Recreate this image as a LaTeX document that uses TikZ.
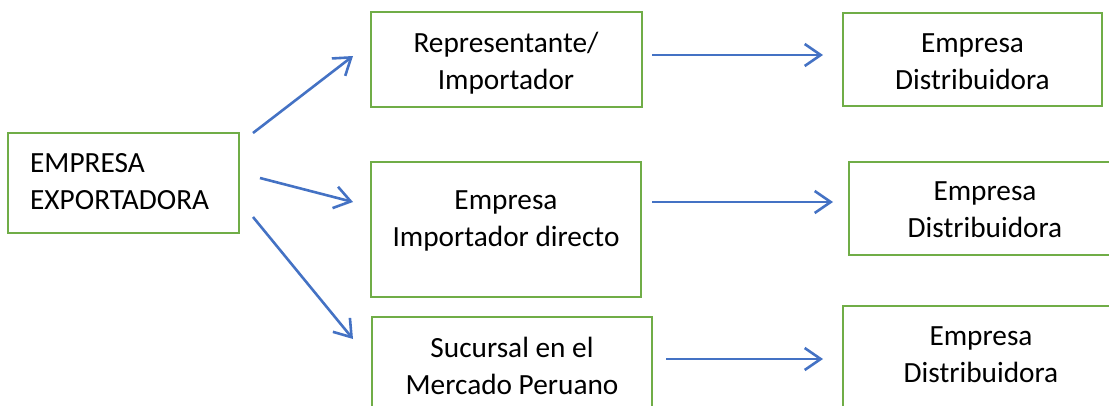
\documentclass[tikz,border=0pt]{standalone}
\usepackage{fontspec}
\setmainfont{Carlito}
\usetikzlibrary{arrows.meta}
\definecolor{boxgreen}{HTML}{70AD47}
\definecolor{arrblue}{HTML}{4472C4}
\tikzset{
  box/.style={draw=boxgreen, line width=2.8pt, rectangle, inner sep=0pt},
  txt/.style={font=\fontsize{29.3}{37}\selectfont, inner sep=0pt, align=center, anchor=north, text=black},
  arr/.style={draw=arrblue, line width=2.6pt, -{Straight Barb[length=16pt,width=22pt,line width=2.6pt]}}
}
\begin{document}
\begin{tikzpicture}[x=1pt,y=-1pt]
\useasboundingbox (0,0) rectangle (1109,405);
\clip (0,0) rectangle (1109,405);
% boxes
\node[box, minimum width=231pt, minimum height=100pt] (exp) at (123.5,183) {};
\node[box, minimum width=271pt, minimum height=95pt] (rep) at (506.5,59.5) {};
\node[box, minimum width=270pt, minimum height=135pt] (imp) at (506,229.5) {};
\node[box, minimum width=280pt, minimum height=113pt] (suc) at (512,373.5) {};
\node[box, minimum width=259pt, minimum height=93pt] (d1) at (972.5,59.5) {};
\node[box, minimum width=272pt, minimum height=93pt] (d2) at (985,208.5) {};
\node[box, minimum width=276pt, minimum height=109pt] (d3) at (981,360.5) {};
% texts
\node[txt, anchor=north west, align=left] (texp) at (30,146.1) {\strut EMPRESA\\\strut EXPORTADORA};
\node[txt] (trep) at (506,26.1) {\strut Representante/\\\strut Importador};
\node[txt] (timp) at (506,183.1) {\strut Empresa\\\strut Importador directo};
\node[txt] (tsuc) at (512,331.1) {\strut Sucursal en el\\\strut Mercado Peruano};
\node[txt] (td1) at (972.5,26.1) {\strut Empresa\\\strut Distribuidora};
\node[txt] (td2) at (985,174.1) {\strut Empresa\\\strut Distribuidora};
\node[txt] (td3) at (981,319.1) {\strut Empresa\\\strut Distribuidora};
% arrow ends
\coordinate (a1s) at (253,133);
\coordinate (a1e) at (353,56);
\coordinate (a2s) at (260,178);
\coordinate (a2e) at (353,202);
\coordinate (a3s) at (253,217);
\coordinate (a3e) at (353,339);
\coordinate (b1s) at (652,55);
\coordinate (b1e) at (823,55);
\coordinate (b2s) at (652,202);
\coordinate (b2e) at (833,202);
\coordinate (b3s) at (666,359);
\coordinate (b3e) at (823,359);
\draw[arr] (a1s) -- (a1e);
\draw[arr] (a2s) -- (a2e);
\draw[arr] (a3s) -- (a3e);
\draw[arr] (b1s) -- (b1e);
\draw[arr] (b2s) -- (b2e);
\draw[arr] (b3s) -- (b3e);
\end{tikzpicture}
\end{document}
